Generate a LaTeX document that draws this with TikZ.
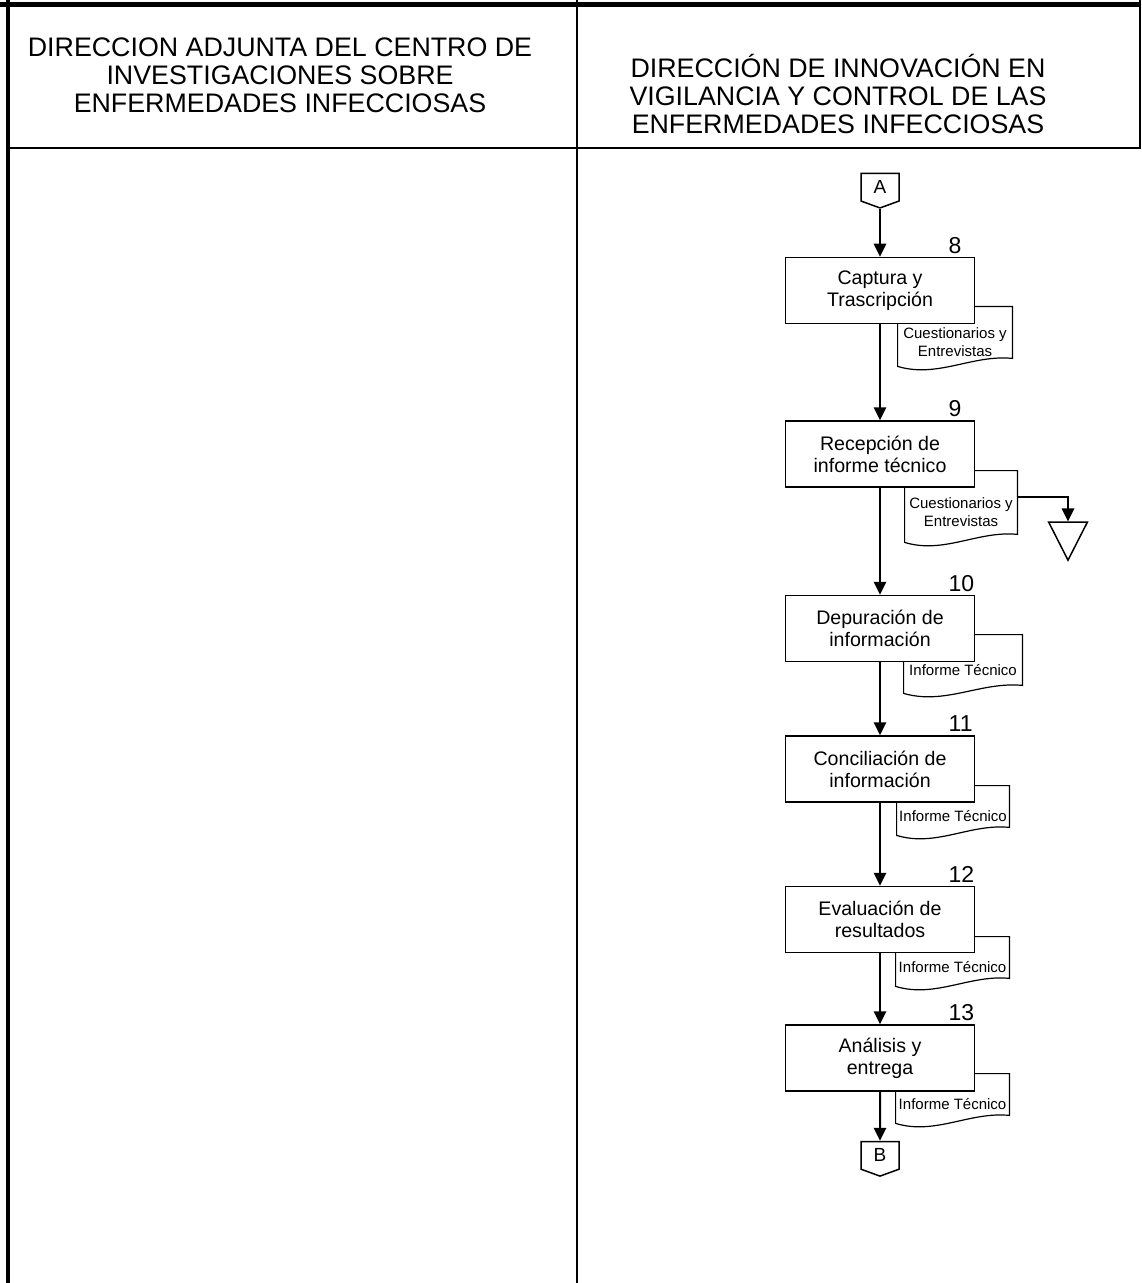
\documentclass[tikz,border=0pt]{standalone}
\usepackage{fontspec}
\setmainfont{Liberation Sans}
\usetikzlibrary{
  shapes.geometric,
  shapes.symbols,
  arrows.meta,
  positioning,
  calc
}
\tikzset{
headtext/.style={
  align=center,
  font=\fontsize{13.4}{14}\selectfont
},
stepbox/.style={
  draw,
  line width=0.75pt,
  fill=white,
  minimum width=94.5pt,
  minimum height=33pt,
  align=center,
  font=\fontsize{9.8}{11}\selectfont
},
docnode/.style={
  inner sep=0.5pt,
  align=center,
  font=\fontsize{7.5}{9}\selectfont
},
docline/.style={
  draw,
  line width=0.6pt
},
pageconn/.style={
  draw,
  line width=0.75pt,
  fill=white,
  signal,
  signal to=south,
  signal pointer angle=140,
  minimum width=19pt,
  minimum height=15pt,
  inner sep=0pt,
  font=\fontsize{9.5}{10}\selectfont
},
numlabel/.style={
  inner sep=0pt,
  font=\fontsize{11.5}{12}\selectfont
},
arrow/.style={
  -{Triangle[length=6.5pt,width=6.2pt]},
  line width=1pt
}
}

\begin{document}
\begin{tikzpicture}[x=0.5pt, y=-0.5pt]
  \useasboundingbox (0,0) rectangle (1141,1283);

  % Frame
  \draw[line width=2.5pt] (0,5) -- (1141,5);
  \draw[line width=2pt] (7.5,0) -- (7.5,1283);
  \draw[line width=1pt] (577,0) -- (577,1283);
  \draw[line width=1.2pt] (7.5,148) -- (1141,148);
  \draw[line width=1pt] (1139.5,0) -- (1139.5,148);

  % Headers
  \node[headtext] (hleft) at (280,75.5) {DIRECCION ADJUNTA DEL CENTRO DE\\INVESTIGACIONES SOBRE\\ENFERMEDADES INFECCIOSAS};
  \node[headtext] (hright) at (838,94) {DIRECCIÓN DE INNOVACIÓN EN\\VIGILANCIA Y CONTROL DE LAS\\ENFERMEDADES INFECCIOSAS};

  % Documents (text sits low, outline raised by 3pt)
  \node[docnode, minimum width=57pt, minimum height=29.5pt] (d8) at (955,342.5) {Cuestionarios y\\Entrevistas};
  \node[docnode, minimum width=56pt, minimum height=35.5pt] (d9) at (961,512.5) {Cuestionarios y\\Entrevistas};
  \node[docnode, minimum width=59pt, minimum height=29pt] (d10) at (963,670) {Informe Técnico};
  \node[docnode, minimum width=56pt, minimum height=24.5pt] (d11) at (953,816.5) {Informe Técnico};
  \node[docnode, minimum width=56.5pt, minimum height=24.5pt] (d12) at (952.5,967.5) {Informe Técnico};
  \node[docnode, minimum width=56.5pt, minimum height=24.5pt] (d13) at (952.5,1104.5) {Informe Técnico};
  \foreach \d in {d8,d9,d10,d11,d12,d13}
    \draw[docline] ([yshift=3pt]\d.north west) -- ([yshift=3pt]\d.north east) -- ([yshift=7pt]\d.south east)
      .. controls ($(\d.south west)!0.65!(\d.south east)+(0,9pt)$) and ($(\d.south west)!0.35!(\d.south east)+(0,-3pt)$)
      .. ([yshift=3pt]\d.south west) -- cycle;

  % Steps
  \node[stepbox] (b8) at (880,290.5) {Captura y\\Trascripción};
  \node[stepbox, below=48pt of b8] (b9) {Recepción de\\informe técnico};
  \node[stepbox, below=53.5pt of b9] (b10) {Depuración de\\información};
  \node[stepbox, below=36.5pt of b10] (b11) {Conciliación de\\información};
  \node[stepbox, below=41.5pt of b11] (b12) {Evaluación de\\resultados};
  \node[stepbox, below=35.5pt of b12] (b13) {Análisis y\\entrega};

  % Step numbers
  \node[numlabel, anchor=south west] (n8) at ([xshift=-13.5pt, yshift=1.5pt]b8.north east) {8};
  \node[numlabel, anchor=south west] (n9) at ([xshift=-13.5pt, yshift=1.5pt]b9.north east) {9};
  \node[numlabel, anchor=south west] (n10) at ([xshift=-13.5pt, yshift=1.5pt]b10.north east) {10};
  \node[numlabel, anchor=south west] (n11) at ([xshift=-13.5pt, yshift=1.5pt]b11.north east) {11};
  \node[numlabel, anchor=south west] (n12) at ([xshift=-13.5pt, yshift=1.5pt]b12.north east) {12};
  \node[numlabel, anchor=south west] (n13) at ([xshift=-13.5pt, yshift=1.5pt]b13.north east) {13};

  % Connectors
  \node[pageconn, above=24pt of b8] (conA) {A};
  \node[pageconn, below=24.5pt of b13] (conB) {B};
  \node[draw, line width=0.75pt, isosceles triangle, isosceles triangle apex angle=54,
    shape border rotate=270, minimum width=18.5pt, minimum height=19pt, inner sep=0pt] (tri) at (1068,534) {};

  % Arrows
  \draw[arrow] (conA) -- (b8);
  \draw[arrow] (b8) -- (b9);
  \draw[arrow] (b9) -- (b10);
  \draw[arrow] (b10) -- (b11);
  \draw[arrow] (b11) -- (b12);
  \draw[arrow] (b12) -- (b13);
  \draw[arrow] (b13) -- (conB);
  \draw[arrow] ([yshift=7.75pt]d9.east) -| (tri.north);
\end{tikzpicture}
\end{document}
